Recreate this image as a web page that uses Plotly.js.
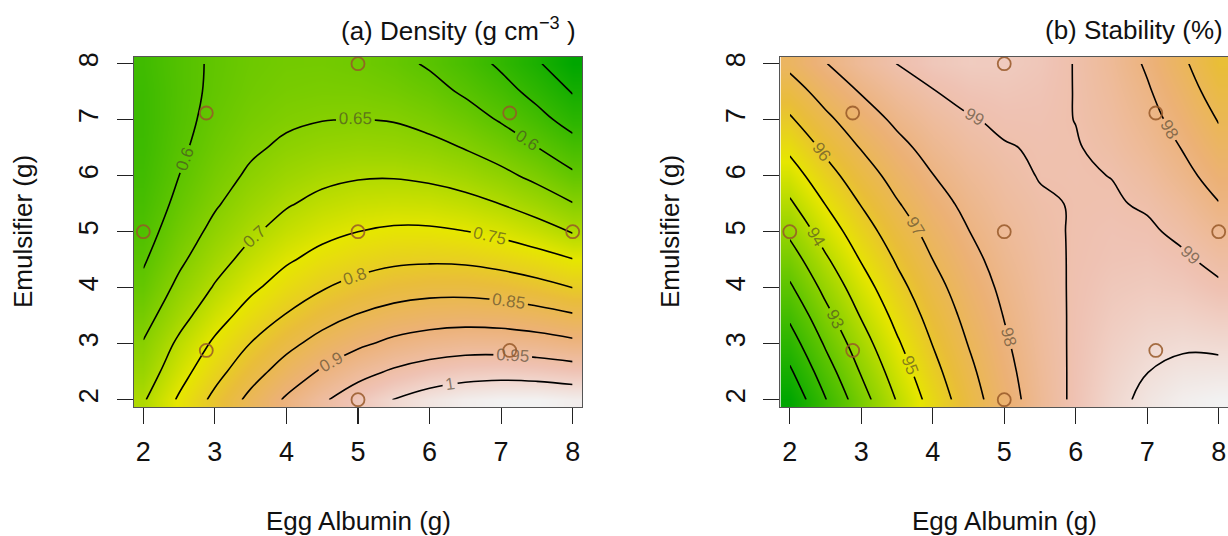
<!DOCTYPE html>
<html>
<head>
<meta charset="utf-8">
<script src="https://cdn.plot.ly/plotly-3.0.1.min.js"></script>
<style>
  html, body { margin: 0; padding: 0; background: #ffffff; }
  #chart { width: 1228px; height: 536px; }
</style>
</head>
<body>
<div id="chart"></div>
<script>
// ---------- data ----------
const eggAlbumin = [2, 2.5, 3, 3.5, 4, 4.5, 5, 5.5, 6, 6.5, 7, 7.5, 8];   // x grid (g)
const emulsifier = [2, 2.5, 3, 3.5, 4, 4.5, 5, 5.5, 6, 6.5, 7, 7.5, 8];   // y grid (g)

// Density (g cm^-3): one row per emulsifier level, columns = egg albumin levels
const densityE20 = [0.695, 0.756, 0.812, 0.862, 0.906, 0.944, 0.975, 1.001, 1.020, 1.033, 1.039, 1.040, 1.033];
const densityE25 = [0.672, 0.731, 0.784, 0.831, 0.871, 0.906, 0.935, 0.956, 0.971, 0.980, 0.983, 0.979, 0.972];
const densityE30 = [0.653, 0.709, 0.758, 0.801, 0.837, 0.868, 0.892, 0.911, 0.923, 0.929, 0.928, 0.922, 0.911];
const densityE35 = [0.631, 0.683, 0.730, 0.770, 0.803, 0.831, 0.853, 0.868, 0.877, 0.880, 0.877, 0.868, 0.855];
const densityE40 = [0.611, 0.661, 0.704, 0.741, 0.772, 0.797, 0.815, 0.828, 0.834, 0.834, 0.828, 0.816, 0.800];
const densityE45 = [0.595, 0.641, 0.682, 0.716, 0.744, 0.766, 0.781, 0.791, 0.794, 0.792, 0.783, 0.770, 0.752];
const densityE50 = [0.581, 0.625, 0.662, 0.693, 0.718, 0.737, 0.750, 0.757, 0.757, 0.751, 0.739, 0.721, 0.697];
const densityE55 = [0.570, 0.611, 0.645, 0.674, 0.696, 0.712, 0.722, 0.725, 0.723, 0.714, 0.699, 0.678, 0.652];
const densityE60 = [0.562, 0.600, 0.632, 0.657, 0.676, 0.689, 0.696, 0.697, 0.691, 0.680, 0.662, 0.638, 0.608];
const densityE65 = [0.557, 0.592, 0.621, 0.643, 0.658, 0.667, 0.671, 0.669, 0.662, 0.648, 0.627, 0.601, 0.570];
const densityE70 = [0.555, 0.587, 0.613, 0.632, 0.643, 0.649, 0.651, 0.648, 0.637, 0.620, 0.596, 0.566, 0.531];
const densityE75 = [0.556, 0.585, 0.608, 0.624, 0.633, 0.636, 0.635, 0.628, 0.615, 0.594, 0.568, 0.535, 0.497];
const densityE80 = [0.560, 0.586, 0.606, 0.620, 0.627, 0.628, 0.623, 0.612, 0.595, 0.572, 0.542, 0.506, 0.464];

// Stability (%): one row per emulsifier level, columns = egg albumin levels
const stabilityE20 = [89.19, 90.96, 92.59, 94.06, 95.38, 96.56, 97.58, 98.46, 99.18, 99.76, 100.18, 100.46, 100.58];
const stabilityE25 = [89.85, 91.54, 93.08, 94.47, 95.71, 96.79, 97.73, 98.52, 99.16, 99.65, 99.99, 100.18, 100.22];
const stabilityE30 = [90.52, 92.12, 93.57, 94.87, 96.03, 97.03, 97.88, 98.59, 99.14, 99.54, 99.79, 99.90, 99.85];
const stabilityE35 = [91.18, 92.70, 94.07, 95.28, 96.35, 97.27, 98.03, 98.65, 99.12, 99.43, 99.60, 99.62, 99.48];
const stabilityE40 = [91.85, 93.28, 94.56, 95.69, 96.67, 97.50, 98.18, 98.72, 99.10, 99.33, 99.41, 99.34, 99.12];
const stabilityE45 = [92.52, 93.86, 95.06, 96.10, 97.00, 97.74, 98.34, 98.78, 99.08, 99.22, 99.26, 99.11, 98.79];
const stabilityE50 = [93.19, 94.45, 95.56, 96.51, 97.32, 97.98, 98.49, 98.85, 99.06, 99.17, 99.11, 98.84, 98.42];
const stabilityE55 = [93.86, 95.03, 96.05, 96.93, 97.65, 98.22, 98.65, 98.92, 99.04, 99.07, 98.92, 98.56, 98.03];
const stabilityE60 = [94.53, 95.62, 96.55, 97.34, 97.98, 98.46, 98.80, 99.03, 99.06, 98.99, 98.70, 98.23, 97.67];
const stabilityE65 = [95.20, 96.20, 97.05, 97.75, 98.31, 98.71, 98.96, 99.06, 99.04, 98.83, 98.46, 97.96, 97.31];
const stabilityE70 = [95.88, 96.79, 97.56, 98.17, 98.63, 98.95, 99.11, 99.13, 98.99, 98.71, 98.27, 97.69, 96.95];
const stabilityE75 = [96.55, 97.38, 98.06, 98.59, 98.97, 99.19, 99.27, 99.20, 98.98, 98.61, 98.09, 97.42, 96.60];
const stabilityE80 = [97.23, 97.97, 98.56, 99.01, 99.30, 99.44, 99.43, 99.28, 98.97, 98.51, 97.90, 97.15, 96.24];

// experimental design points (open circles)
const designAlbumin    = [2, 2.88, 2.88, 5, 5, 5, 7.12, 7.12, 8];
const designEmulsifier = [5, 2.88, 7.12, 2, 5, 8, 2.88, 7.12, 5];

const tickValues = [2, 3, 4, 5, 6, 7, 8];
const tickLabels = ['2', '3', '4', '5', '6', '7', '8'];

const densityLevels   = {start: 0.5, end: 1.0, size: 0.05};
const stabilityLevels = {start: 90, end: 100, size: 1};

// ---------- drawing ----------
const densityZ = [densityE20, densityE25, densityE30, densityE35, densityE40, densityE45, densityE50,
                  densityE55, densityE60, densityE65, densityE70, densityE75, densityE80];
const stabilityZ = [stabilityE20, stabilityE25, stabilityE30, stabilityE35, stabilityE40, stabilityE45, stabilityE50,
                    stabilityE55, stabilityE60, stabilityE65, stabilityE70, stabilityE75, stabilityE80];

// R terrain.colors style scale
const terrain = [
  [0.000, '#00A600'], [0.125, '#2EB600'], [0.250, '#63C600'], [0.375, '#A0D600'],
  [0.500, '#E6E600'], [0.625, '#E9BD3A'], [0.750, '#ECB176'], [0.875, '#EFC2B3'],
  [1.000, '#F2F2F2']
];

const FONT = 'Liberation Sans, Arial, Helvetica, sans-serif';
const labelFont = {family: FONT, size: 17, color: 'rgba(70,60,40,0.62)'};

function heat(z, xa, ya) {
  return {type: 'heatmap', x: eggAlbumin, y: emulsifier, z: z, xaxis: xa, yaxis: ya,
          colorscale: terrain, zsmooth: 'best', showscale: false, hoverinfo: 'skip'};
}
function lines(z, xa, ya, levels, fmt) {
  return {type: 'contour', x: eggAlbumin, y: emulsifier, z: z, xaxis: xa, yaxis: ya,
          autocontour: false,
          contours: {start: levels.start, end: levels.end, size: levels.size,
                     coloring: 'none', showlabels: true, labelfont: labelFont, labelformat: fmt},
          line: {color: '#000000', width: 1.6, smoothing: 1.2},
          showscale: false, hoverinfo: 'skip'};
}
function pts(xa, ya) {
  return {type: 'scatter', mode: 'markers', x: designAlbumin, y: designEmulsifier,
          xaxis: xa, yaxis: ya, cliponaxis: false, hoverinfo: 'skip',
          marker: {symbol: 'circle-open', size: 13, color: 'rgba(150,88,40,0.85)', line: {width: 1.8}}};
}

const data = [
  heat(densityZ, 'x', 'y'), lines(densityZ, 'x', 'y', densityLevels, '.2~f'), pts('x', 'y'),
  heat(stabilityZ, 'x2', 'y2'), lines(stabilityZ, 'x2', 'y2', stabilityLevels, '.0f'), pts('x2', 'y2')
];

function xAxis(domain, anchor) {
  return {domain: domain, anchor: anchor, range: [1.87, 8.13], tickvals: tickValues, ticktext: tickLabels,
          ticks: 'outside', ticklen: 16, tickwidth: 1.2, tickcolor: '#222',
          showline: true, mirror: true, linecolor: '#555', linewidth: 1,
          showgrid: false, zeroline: false, ticklabelstandoff: 5,
          tickfont: {family: FONT, size: 27, color: '#111'}};
}
function yAxis(anchor) {
  return {domain: [0.2407, 0.8937], anchor: anchor, range: [1.87, 8.12], tickvals: tickValues, ticktext: tickLabels,
          tickangle: -90, ticks: 'outside', ticklen: 16, tickwidth: 1.2, tickcolor: '#222',
          showline: true, mirror: true, linecolor: '#555', linewidth: 1,
          showgrid: false, zeroline: false, ticklabelstandoff: 8,
          tickfont: {family: FONT, size: 27, color: '#111'}};
}

const titleFont = {family: FONT, size: 26, color: '#111'};
const layout = {
  width: 1228, height: 536,
  margin: {l: 0, r: 0, t: 0, b: 0},
  paper_bgcolor: '#ffffff', plot_bgcolor: '#ffffff',
  showlegend: false,
  xaxis:  xAxis([0.10912, 0.47394], 'y'),
  yaxis:  yAxis('x'),
  xaxis2: xAxis([0.63558, 1.0], 'y2'),
  yaxis2: yAxis('x2'),
  annotations: [
    {text: '(a) Density (g cm<sup>−3</sup> )', xref: 'paper', yref: 'paper', x: 578/1228, y: 1 - 30/536,
     xanchor: 'right', yanchor: 'middle', showarrow: false, font: titleFont},
    {text: '(b) Stability (%)', xref: 'paper', yref: 'paper', x: 1225/1228, y: 1 - 30/536,
     xanchor: 'right', yanchor: 'middle', showarrow: false, font: titleFont},
    {text: 'Egg Albumin (g)', xref: 'paper', yref: 'paper', x: 358/1228, y: 1 - 521/536,
     xanchor: 'center', yanchor: 'middle', showarrow: false, font: titleFont},
    {text: 'Egg Albumin (g)', xref: 'paper', yref: 'paper', x: 1004/1228, y: 1 - 521/536,
     xanchor: 'center', yanchor: 'middle', showarrow: false, font: titleFont},
    {text: 'Emulsifier (g)', xref: 'paper', yref: 'paper', x: 23/1228, y: 1 - 232/536, textangle: -90,
     xanchor: 'center', yanchor: 'middle', showarrow: false, font: titleFont},
    {text: 'Emulsifier (g)', xref: 'paper', yref: 'paper', x: 670/1228, y: 1 - 232/536, textangle: -90,
     xanchor: 'center', yanchor: 'middle', showarrow: false, font: titleFont}
  ]
};

Plotly.newPlot('chart', data, layout, {staticPlot: true, displayModeBar: false});
</script>
</body>
</html>
